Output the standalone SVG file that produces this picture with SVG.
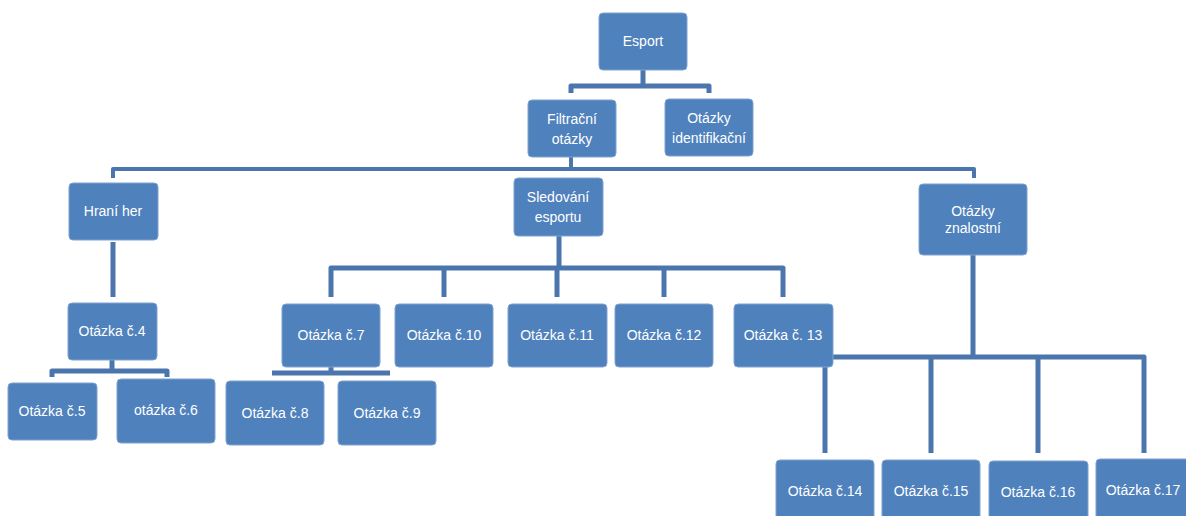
<svg xmlns="http://www.w3.org/2000/svg" width="1186" height="516" viewBox="0 0 1186 516">
<style>
.n rect{fill:#4f81bd;stroke:#7fa3d0;stroke-width:1}
.n text{fill:#ffffff;font-family:"Liberation Sans",Arial,sans-serif;font-size:14px;text-anchor:middle}
.c path{fill:none;stroke:#4a76ad;stroke-width:5;stroke-linejoin:round}
</style>
<rect width="1186" height="516" fill="#ffffff"/>
<g class="c" id="connectors">
<path d="M643 70 V86 M571 93 V86 H709 V93"/>
<path d="M571 157 V169 M113 178 V169 H974 V178" style="stroke-width:4"/>
<path d="M113 242 V297"/>
<path d="M112 360 V371 M52 377 V371 H167 V377"/>
<path d="M559 236 V268 M331 297 V268 H783 V297 M444 268 V297 M557 268 V297 M664 268 V297"/>
<path d="M331 367 V373 M272 373 H390"/>
<path d="M973 255 V357 M825 453 V357 H1144 V453 M931 357 V453 M1038 357 V453"/>
</g>
<g class="n" id="esport"><rect x="599" y="13" width="88" height="57" rx="4"/><text x="643" y="46">Esport</text></g>
<g class="n" id="filtracni"><rect x="528" y="100" width="88" height="57" rx="4"/><text x="572" y="124">Filtrační</text><text x="572" y="144">otázky</text></g>
<g class="n" id="identifikacni"><rect x="665" y="99" width="88" height="57" rx="4"/><text x="709" y="123">Otázky</text><text x="709" y="143">identifikační</text></g>
<g class="n" id="hrani"><rect x="69" y="183" width="89" height="57" rx="4"/><text x="113" y="216">Hraní her</text></g>
<g class="n" id="sledovani"><rect x="514" y="178" width="89" height="58" rx="4"/><text x="558" y="202">Sledování</text><text x="558" y="222">esportu</text></g>
<g class="n" id="znalostni"><rect x="919" y="184" width="108" height="71" rx="4"/><text x="973" y="216">Otázky</text><text x="973" y="233">znalostní</text></g>
<g class="n" id="q4"><rect x="68" y="303" width="89" height="57" rx="4"/><text x="112" y="336">Otázka č.4</text></g>
<g class="n" id="q5"><rect x="8" y="383" width="89" height="57" rx="4"/><text x="52" y="416">Otázka č.5</text></g>
<g class="n" id="q6"><rect x="117" y="379" width="98" height="64" rx="4"/><text x="166" y="415">otázka č.6</text></g>
<g class="n" id="q7"><rect x="282" y="304" width="98" height="63" rx="4"/><text x="331" y="340">Otázka č.7</text></g>
<g class="n" id="q8"><rect x="226" y="381" width="98" height="64" rx="4"/><text x="275" y="418">Otázka č.8</text></g>
<g class="n" id="q9"><rect x="338" y="381" width="98" height="64" rx="4"/><text x="387" y="418">Otázka č.9</text></g>
<g class="n" id="q10"><rect x="395" y="304" width="98" height="63" rx="4"/><text x="444" y="340">Otázka č.10</text></g>
<g class="n" id="q11"><rect x="508" y="304" width="99" height="63" rx="4"/><text x="557" y="340">Otázka č.11</text></g>
<g class="n" id="q12"><rect x="615" y="304" width="98" height="63" rx="4"/><text x="664" y="340">Otázka č.12</text></g>
<g class="n" id="q13"><rect x="734" y="304" width="99" height="63" rx="4"/><text x="783" y="340">Otázka č. 13</text></g>
<g class="n" id="q14"><rect x="776" y="460" width="98" height="64" rx="4"/><text x="825" y="496">Otázka č.14</text></g>
<g class="n" id="q15"><rect x="882" y="460" width="98" height="64" rx="4"/><text x="931" y="496">Otázka č.15</text></g>
<g class="n" id="q16"><rect x="989" y="461" width="99" height="64" rx="4"/><text x="1038" y="497">Otázka č.16</text></g>
<g class="n" id="q17"><rect x="1096" y="459" width="98" height="64" rx="4"/><text x="1143" y="495">Otázka č.17</text></g>
</svg>
